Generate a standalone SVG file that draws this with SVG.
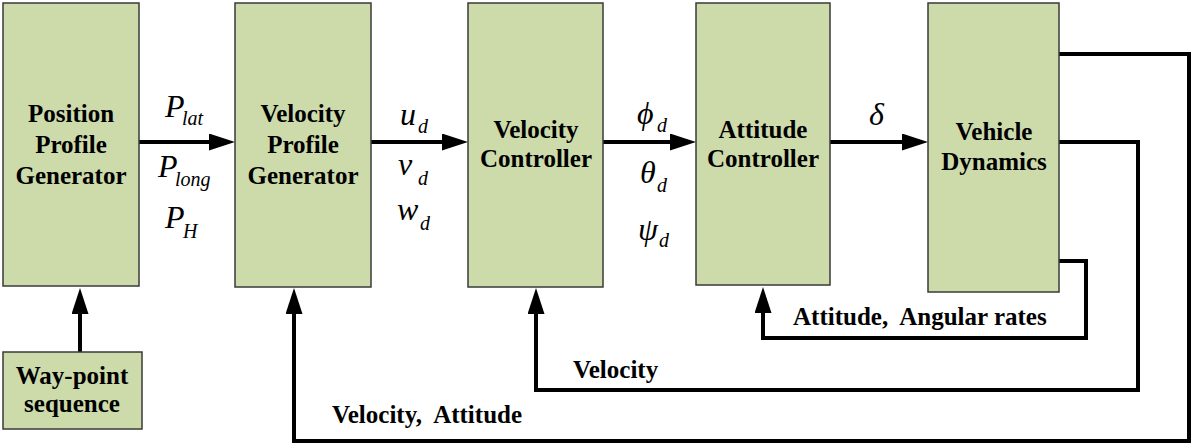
<svg xmlns="http://www.w3.org/2000/svg" width="1193" height="445" viewBox="0 0 1193 445">
<style>
.box{fill:#cddbab;stroke:#3a3a3a;stroke-width:1.5}
.lbl{font-weight:bold;font-size:25px;fill:#000;text-anchor:middle}
.fb{font-weight:bold;font-size:25px;fill:#000;white-space:pre}
.m{font-style:italic;font-size:32px;fill:#000}
.s{font-size:20px}
.c{fill:none;stroke:#000;stroke-width:4;stroke-linejoin:miter;stroke-linecap:butt}
</style>
<defs>
<marker id="ah" viewBox="0 0 26 17" refX="1" refY="8.5" markerWidth="26" markerHeight="17" markerUnits="userSpaceOnUse" orient="auto">
<path d="M0,0 L26,8.5 L0,17 z" fill="#000"/>
</marker>
</defs>
<g id="connectors">
<path class="c" d="M80,352 V313" marker-end="url(#ah)"/>
<path class="c" d="M139,142 H210" marker-end="url(#ah)"/>
<path class="c" d="M371,142 H443" marker-end="url(#ah)"/>
<path class="c" d="M603,142 H671" marker-end="url(#ah)"/>
<path class="c" d="M830,142 H903" marker-end="url(#ah)"/>
<path class="c" d="M1059,54 H1189 V441 H294 V313" marker-end="url(#ah)"/>
<path class="c" d="M1059,142 H1138 V390 H536 V313" marker-end="url(#ah)"/>
<path class="c" d="M1059,261 H1086 V338 H763 V312" marker-end="url(#ah)"/>
</g>
<g font-family="Liberation Serif, Times New Roman, DejaVu Serif, serif">
<g id="n-position">
<rect class="box" x="3" y="3" width="136" height="283"/>
<text class="lbl" x="71" y="122">Position</text>
<text class="lbl" x="71" y="153">Profile</text>
<text class="lbl" x="71" y="184">Generator</text>
</g>
<g id="n-waypoint">
<rect class="box" x="3" y="352" width="139" height="77"/>
<text class="lbl" x="72" y="384">Way-point</text>
<text class="lbl" x="72" y="412">sequence</text>
</g>
<g id="n-velprofile">
<rect class="box" x="235" y="3" width="136" height="284"/>
<text class="lbl" x="303" y="122">Velocity</text>
<text class="lbl" x="303" y="153">Profile</text>
<text class="lbl" x="303" y="184">Generator</text>
</g>
<g id="n-velctrl">
<rect class="box" x="468" y="3" width="135" height="284"/>
<text class="lbl" x="536" y="138">Velocity</text>
<text class="lbl" x="536" y="167">Controller</text>
</g>
<g id="n-attctrl">
<rect class="box" x="696" y="3" width="134" height="282"/>
<text class="lbl" x="763" y="138">Attitude</text>
<text class="lbl" x="763" y="167">Controller</text>
</g>
<g id="n-dynamics">
<rect class="box" x="928" y="3" width="131" height="289"/>
<text class="lbl" x="994" y="140">Vehicle</text>
<text class="lbl" x="994" y="170">Dynamics</text>
</g>
<g id="signals">
<text class="m" x="165" y="117">P<tspan class="s" x="182" y="125">lat</tspan></text>
<text class="m" x="158" y="177">P<tspan class="s" x="175" y="186">long</tspan></text>
<text class="m" x="165" y="228">P<tspan class="s" x="183" y="238">H</tspan></text>
<text class="m" x="400" y="125">u<tspan class="s" x="418" y="133">d</tspan></text>
<text class="m" x="398" y="175">v<tspan class="s" x="418" y="185">d</tspan></text>
<text class="m" x="397" y="220">w<tspan class="s" x="420" y="230">d</tspan></text>
<text class="m" x="637" y="124">ϕ<tspan class="s" x="657" y="132">d</tspan></text>
<text class="m" x="640" y="183">θ<tspan class="s" x="657" y="192">d</tspan></text>
<text class="m" x="638" y="240">ψ<tspan class="s" x="659" y="247">d</tspan></text>
<text class="m" x="869" y="125">δ</text>
</g>
<g id="feedback-labels">
<text class="fb" x="793" y="325">Attitude,  Angular rates</text>
<text class="fb" x="573" y="378">Velocity</text>
<text class="fb" x="332" y="423">Velocity,  Attitude</text>
</g>
</g>
</svg>
